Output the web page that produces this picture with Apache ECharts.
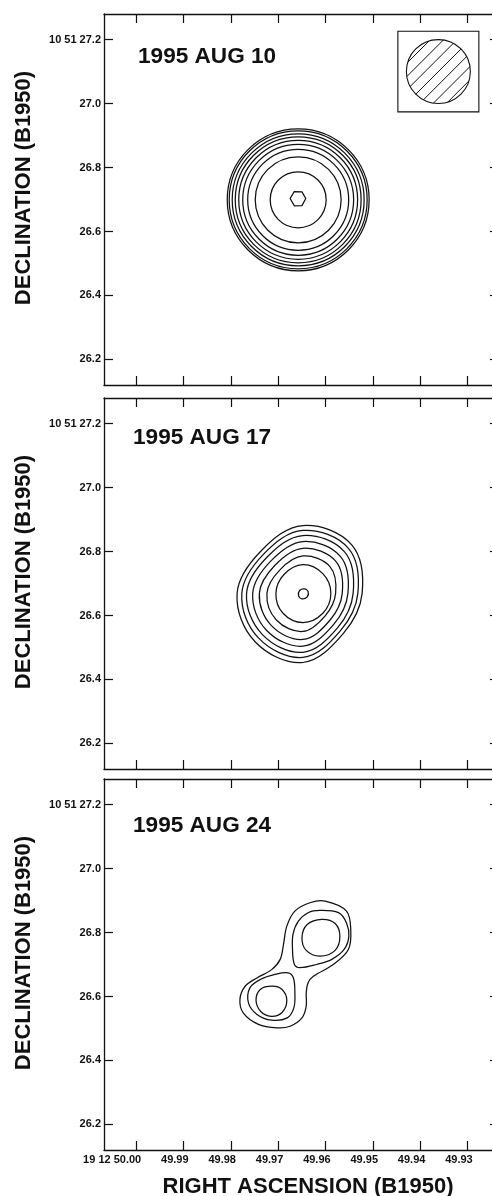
<!DOCTYPE html>
<html>
<head>
<meta charset="utf-8">
<script src="https://cdn.jsdelivr.net/npm/echarts@6/dist/echarts.min.js"></script>
<style>
html,body{margin:0;padding:0;background:#fff;overflow:hidden;}
#chart{width:502px;height:1196px;}
</style>
</head>
<body>
<div id="chart"></div>
<script>
// ---------- data ----------
const raTicks = [50.00, 49.99, 49.98, 49.97, 49.96, 49.95, 49.94, 49.93];
const decTicks = [26.2, 26.4, 26.6, 26.8, 27.0, 27.2];
const raRange = [49.9234, 50.0068];
const decRange = [26.12, 27.28];
const panelTitles = ['1995 AUG 10', '1995 AUG 17', '1995 AUG 24'];
const yAxisName = 'DECLINATION (B1950)';
const xAxisName = 'RIGHT ASCENSION (B1950)';

// 1995 Aug 10: near-circular contours (centre, radius in RA s and Dec arcsec)
const aug10Centre = [49.9658, 26.699];
const aug10RadiusRA = [0.00591, 0.00907, 0.01066, 0.01171, 0.01255, 0.01329, 0.01393, 0.01456, 0.01498];
const aug10RadiusDec = [0.0875, 0.1344, 0.1578, 0.1734, 0.1859, 0.1969, 0.2063, 0.2156, 0.2219];
const aug10Peak = [[49.9666,26.725],[49.9650,26.724],[49.9642,26.703],[49.9650,26.681],[49.9666,26.680],[49.9675,26.703]];

// 1995 Aug 17: contour vertices [RA s, Dec arcsec]
const aug17C1 = [[49.9648,26.881],[49.9545,26.821],[49.9523,26.669],[49.9563,26.543],[49.9648,26.453],[49.9749,26.518],[49.9787,26.669],[49.9737,26.801]];
const aug17C2 = [[49.9648,26.866],[49.9552,26.810],[49.9532,26.669],[49.9569,26.552],[49.9648,26.469],[49.9742,26.530],[49.9777,26.669],[49.9731,26.792]];
const aug17C3 = [[49.9648,26.850],[49.9560,26.799],[49.9542,26.669],[49.9575,26.561],[49.9648,26.485],[49.9734,26.541],[49.9767,26.669],[49.9724,26.782]];
const aug17C4 = [[49.9648,26.831],[49.9569,26.785],[49.9553,26.669],[49.9583,26.572],[49.9648,26.504],[49.9725,26.554],[49.9754,26.669],[49.9716,26.770]];
const aug17C5 = [[49.9648,26.810],[49.9579,26.770],[49.9565,26.669],[49.9591,26.585],[49.9648,26.525],[49.9715,26.569],[49.9740,26.669],[49.9707,26.757]];
const aug17C6 = [[49.9648,26.786],[49.9591,26.753],[49.9579,26.669],[49.9601,26.599],[49.9648,26.550],[49.9704,26.586],[49.9724,26.669],[49.9697,26.742]];
const aug17C7 = [[49.9648,26.759],[49.9606,26.731],[49.9589,26.669],[49.9606,26.607],[49.9648,26.578],[49.9690,26.607],[49.9705,26.669],[49.9688,26.728]];
const aug17Peak = [[49.9644,26.683],[49.9637,26.675],[49.9639,26.658],[49.9650,26.652],[49.9657,26.661],[49.9655,26.678]];

// 1995 Aug 24: double source contours
const aug24Outer = [[49.9601,26.898],[49.9556,26.867],[49.9547,26.809],[49.9552,26.747],[49.9584,26.700],[49.9626,26.663],[49.9637,26.643],[49.9641,26.612],[49.9641,26.570],[49.9650,26.533],[49.9675,26.507],[49.9703,26.502],[49.9742,26.513],[49.9774,26.549],[49.9781,26.591],[49.9770,26.632],[49.9745,26.658],[49.9714,26.684],[49.9696,26.716],[49.9689,26.763],[49.9682,26.820],[49.9665,26.867],[49.9633,26.893]];
const aug24UpperMid = [[49.9612,26.869],[49.9573,26.862],[49.9556,26.830],[49.9551,26.788],[49.9561,26.747],[49.9587,26.716],[49.9619,26.700],[49.9654,26.690],[49.9666,26.700],[49.9670,26.747],[49.9669,26.794],[49.9658,26.835],[49.9637,26.862]];
const aug24LowerMid = [[49.9679,26.674],[49.9668,26.658],[49.9665,26.612],[49.9667,26.565],[49.9681,26.533],[49.9714,26.526],[49.9745,26.544],[49.9763,26.580],[49.9760,26.627],[49.9738,26.653],[49.9707,26.669]];
const aug24UpperIn = [[49.9608,26.841],[49.9580,26.828],[49.9570,26.788],[49.9580,26.744],[49.9612,26.726],[49.9641,26.744],[49.9650,26.784],[49.9639,26.825]];
const aug24LowerIn = [[49.9713,26.632],[49.9692,26.622],[49.9682,26.588],[49.9692,26.550],[49.9715,26.538],[49.9737,26.553],[49.9747,26.588],[49.9738,26.622]];

// restoring beam (panel 1 corner)
const beamCentre = [49.9362, 27.100];
const beamRadius = [0.00675, 0.100];
const beamBoxHalf = [0.00855, 0.126];

// ---------- chart ----------
const FONT = '"Liberation Sans", Arial, Helvetica, sans-serif';
const INK = '#111';
const chart = echarts.init(document.getElementById('chart'), null, {renderer: 'canvas'});

const gridTops = [14, 398, 779];
const grids = gridTops.map(t => ({left: 104, top: t, width: 395, height: 371, containLabel: false}));

const xAxes = [], yAxes = [];
gridTops.forEach((t, i) => {
  ['bottom', 'top'].forEach(pos => {
    xAxes.push({
      type: 'value', gridIndex: i, position: pos, inverse: true,
      min: raRange[0], max: raRange[1],
      axisLine: {show: true, onZero: false, lineStyle: {color: INK, width: 1.3}},
      axisTick: {show: true, inside: true, length: 9, customValues: raTicks, lineStyle: {color: INK, width: 1.2}},
      axisLabel: {show: pos === 'bottom' && i === 2, customValues: raTicks, margin: 4,
        align: 'right', padding: [0, -5, 0, 0],
        color: INK, fontFamily: FONT, fontWeight: 'bold', fontSize: 11,
        formatter: v => Math.abs(v - 50) < 1e-6 ? '19 12 50.00' : v.toFixed(2)},
      splitLine: {show: false}
    });
  });
  ['left', 'right'].forEach(pos => {
    yAxes.push({
      type: 'value', gridIndex: i, position: pos,
      min: decRange[0], max: decRange[1],
      axisLine: {show: true, onZero: false, lineStyle: {color: INK, width: 1.3}},
      axisTick: {show: true, inside: true, length: 9, customValues: decTicks, lineStyle: {color: INK, width: 1.2}},
      axisLabel: {show: pos === 'left', customValues: decTicks, margin: 3,
        color: INK, fontFamily: FONT, fontWeight: 'bold', fontSize: 11,
        formatter: v => Math.abs(v - 27.2) < 1e-6 ? '10 51 27.2' : v.toFixed(1)},
      splitLine: {show: false}
    });
  });
});

const lineStyle = {fill: 'none', stroke: INK, lineWidth: 1.25};

function polySeries(gridIdx, polys, smooth) {
  return {
    type: 'custom', coordinateSystem: 'cartesian2d',
    xAxisIndex: gridIdx * 2, yAxisIndex: gridIdx * 2, clip: false, silent: true,
    data: polys.map(p => p[0]),
    encode: {x: 0, y: 1},
    renderItem: (params, api) => {
      const pts = polys[params.dataIndex].map(p => api.coord(p));
      return {type: 'polygon', shape: {points: pts, smooth: smooth}, style: lineStyle};
    }
  };
}

function ringSeries(gridIdx, centre, rRA, rDec) {
  return {
    type: 'custom', coordinateSystem: 'cartesian2d',
    xAxisIndex: gridIdx * 2, yAxisIndex: gridIdx * 2, clip: false, silent: true,
    data: rRA.map(() => [centre[0], centre[1]]),
    encode: {x: 0, y: 1},
    renderItem: (params, api) => {
      const i = params.dataIndex;
      const c = api.coord(centre);
      const e = api.coord([centre[0] - rRA[i], centre[1] + rDec[i]]);
      return {type: 'ellipse', shape: {cx: c[0], cy: c[1], rx: Math.abs(e[0] - c[0]), ry: Math.abs(c[1] - e[1])}, style: lineStyle};
    }
  };
}

const beamSeries = {
  type: 'custom', coordinateSystem: 'cartesian2d',
  xAxisIndex: 0, yAxisIndex: 0, clip: false, silent: true,
  data: [beamCentre], encode: {x: 0, y: 1},
  renderItem: (params, api) => {
    const c = api.coord(beamCentre);
    const b = api.coord([beamCentre[0] - beamBoxHalf[0], beamCentre[1] + beamBoxHalf[1]]);
    const r = api.coord([beamCentre[0] - beamRadius[0], beamCentre[1] + beamRadius[1]]);
    const hx = Math.abs(b[0] - c[0]), hy = Math.abs(c[1] - b[1]);
    const R = (Math.abs(r[0] - c[0]) + Math.abs(c[1] - r[1])) / 2;
    const children = [
      {type: 'rect', shape: {x: c[0] - hx, y: c[1] - hy, width: 2 * hx, height: 2 * hy}, style: {fill: '#fff', stroke: INK, lineWidth: 1.1}},
      {type: 'circle', shape: {cx: c[0], cy: c[1], r: R}, style: {fill: 'none', stroke: INK, lineWidth: 1.1}}
    ];
    const s = Math.SQRT1_2;
    const step = R / 3.4;
    for (let k = -3; k <= 3; k++) {
      const d = k * step;
      const h = Math.sqrt(Math.max(R * R - d * d, 0));
      const mx = c[0] + d * s, my = c[1] + d * s;
      children.push({type: 'line', shape: {x1: mx - h * s, y1: my + h * s, x2: mx + h * s, y2: my - h * s}, style: {stroke: INK, lineWidth: 1}});
    }
    return {type: 'group', children: children};
  }
};

const series = [
  ringSeries(0, aug10Centre, aug10RadiusRA, aug10RadiusDec),
  polySeries(0, [aug10Peak], 0),
  beamSeries,
  polySeries(1, [aug17C1, aug17C2, aug17C3, aug17C4, aug17C5, aug17C6, aug17C7], 0.37),
  polySeries(1, [aug17Peak], 0.3),
  polySeries(2, [aug24Outer, aug24UpperMid, aug24LowerMid, aug24UpperIn, aug24LowerIn], 0.35)
];

const titleFont = 'bold 22.6px ' + FONT;
const nameFont = 'bold 22px ' + FONT;
const graphics = [];
const titlePos = [[138, 57], [133, 438], [133, 826]];
panelTitles.forEach((t, i) => {
  graphics.push({type: 'text', x: titlePos[i][0], y: titlePos[i][1], silent: true,
    style: {text: t, font: titleFont, fill: INK, align: 'left', verticalAlign: 'middle'}});
  graphics.push({type: 'text', x: 24, y: gridTops[i] + 174, rotation: Math.PI / 2, silent: true,
    style: {text: yAxisName, font: nameFont, fill: INK, align: 'center', verticalAlign: 'middle'}});
});
graphics.push({type: 'text', x: 308, y: 1187, silent: true,
  style: {text: xAxisName, font: nameFont, fill: INK, align: 'center', verticalAlign: 'middle'}});

chart.setOption({
  animation: false,
  backgroundColor: '#fff',
  grid: grids,
  xAxis: xAxes,
  yAxis: yAxes,
  series: series,
  graphic: graphics
});
</script>
</body>
</html>
